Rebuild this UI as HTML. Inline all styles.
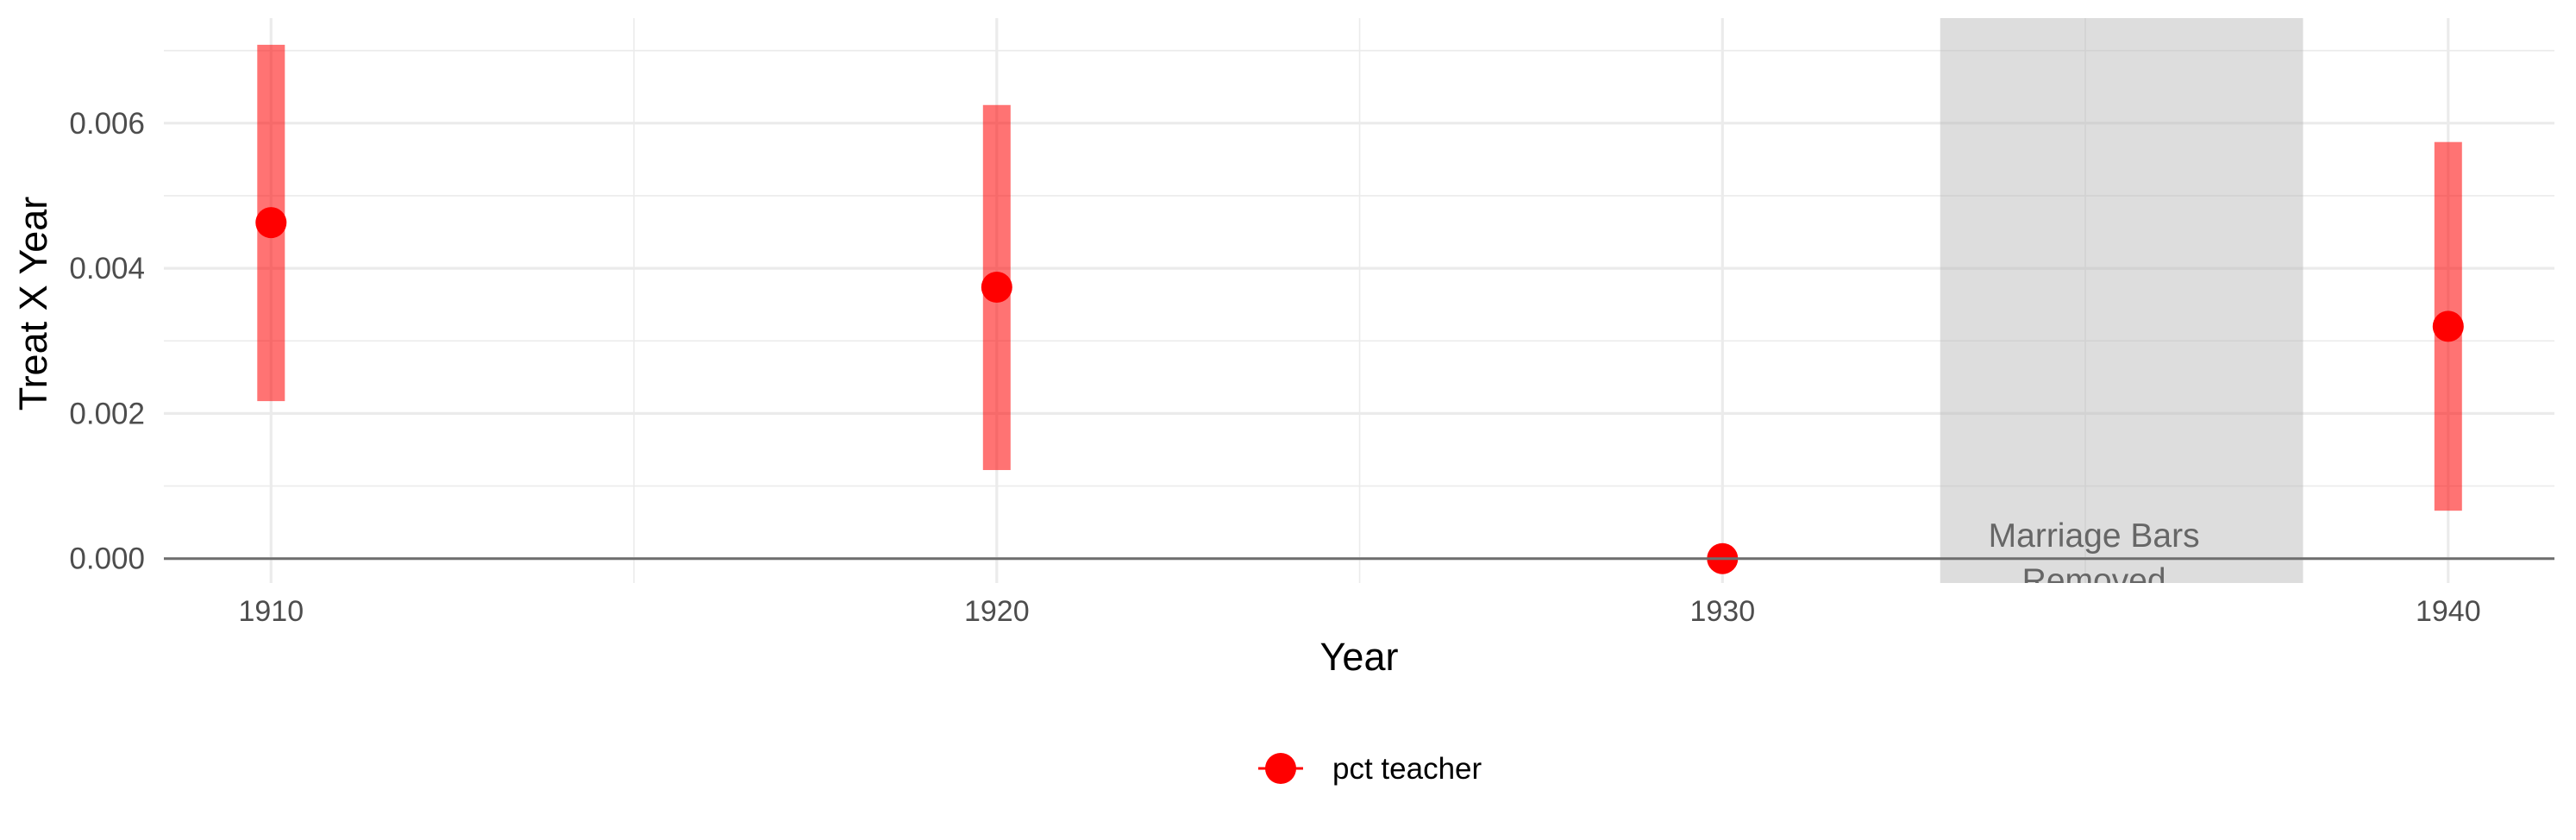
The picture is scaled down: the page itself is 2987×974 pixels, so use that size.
<!DOCTYPE html>
<html><head><meta charset="utf-8"><style>
html,body{margin:0;padding:0;background:#fff;}
svg{display:block;font-family:"Liberation Sans",Arial,sans-serif;}
</style></head><body>
<svg id="chart" width="2987" height="974" viewBox="0 0 2987 974" xmlns="http://www.w3.org/2000/svg">
<defs><clipPath id="pc"><rect x="190" y="21" width="2772" height="655"/></clipPath></defs>
<g id="grid"></g>
<g id="shade" clip-path="url(#pc)"></g>
<g id="marks"></g>
<g id="axes"></g>
<text x="1576" y="777" font-size="45" text-anchor="middle" fill="#000">Year</text>
<text transform="translate(54,352) rotate(-90)" font-size="45" text-anchor="middle" fill="#000">Treat X Year</text>
<g>
<line x1="1459" y1="891" x2="1511" y2="891" stroke="#ff0000" stroke-width="3"/>
<circle cx="1485" cy="891" r="18" fill="#ff0000"/>
<text x="1545" y="903" font-size="35" fill="#000">pct teacher</text>
</g>
</svg>
<script>
const years=[1910,1920,1930,1940];
const estimates=[0.00463,0.00374,0,0.00320];
const ciLow=[0.00217,0.00122,null,0.00066];
const ciHigh=[0.00708,0.00625,null,0.00574];
const yTicks=[0,0.002,0.004,0.006];
const yTickLabels=["0.000","0.002","0.004","0.006"];
const yMinor=[0.001,0.003,0.005,0.007];
const xTicks=[1910,1920,1930,1940];
const xMinor=[1915,1925,1935];
const shadeRange=[1933,1938];
const shadeLabel=["Marriage Bars","Removed"];

const NS="http://www.w3.org/2000/svg";
const L=190,R=2962,T=21,B=676;
const xs=v=>314.3+(v-1910)*84.15;
const ys=v=>647.7-v*84150;
function mk(tag,attrs,parent){const e=document.createElementNS(NS,tag);for(const k in attrs)e.setAttribute(k,attrs[k]);parent.appendChild(e);return e;}
const grid=document.getElementById('grid'),marks=document.getElementById('marks'),axes=document.getElementById('axes'),shade=document.getElementById('shade');
yMinor.forEach(v=>{const l=mk('line',{x1:L,x2:R,y1:ys(v),y2:ys(v),stroke:'#ebebeb','stroke-width':1.6},grid);

});
xMinor.forEach(v=>{const l=mk('line',{x1:xs(v),x2:xs(v),y1:T,y2:B,stroke:'#ebebeb','stroke-width':1.6},grid);

});
yTicks.forEach((v,i)=>{const l=mk('line',{x1:L,x2:R,y1:ys(v),y2:ys(v),stroke:'#ebebeb','stroke-width':3.2},grid);


const t=mk('text',{x:168,y:ys(v)+12,'font-size':35,'text-anchor':'end',fill:'#4d4d4d'},axes);t.textContent=yTickLabels[i];

});
xTicks.forEach(v=>{const l=mk('line',{x1:xs(v),x2:xs(v),y1:T,y2:B,stroke:'#ebebeb','stroke-width':3.2},grid);


const t=mk('text',{x:xs(v),y:720,'font-size':34,'text-anchor':'middle',fill:'#4d4d4d'},axes);t.textContent=v;

});
const sr=mk('rect',{x:xs(shadeRange[0]),y:T,width:xs(shadeRange[1])-xs(shadeRange[0]),height:B-T,fill:'#b3b3b3','fill-opacity':0.45},shade);


const cx=(xs(shadeRange[0])+xs(shadeRange[1]))/2-32;
shadeLabel.forEach((s,i)=>{const t=mk('text',{x:cx,y:634+i*52,'font-size':39,'text-anchor':'middle',fill:'#666666'},shade);t.textContent=s;

});
const z=mk('line',{x1:L,x2:R,y1:ys(0),y2:ys(0),stroke:'#6e6e6e','stroke-width':3},axes);


years.forEach((yr,i)=>{
 if(ciLow[i]!==null){const r=mk('rect',{x:xs(yr)-16,y:ys(ciHigh[i]),width:32,height:ys(ciLow[i])-ys(ciHigh[i]),fill:'#ff0000','fill-opacity':0.55},marks);
 
 }
 const c=mk('circle',{cx:xs(yr),cy:ys(estimates[i]),r:18,fill:'#ff0000'},marks);
 
 
});
</script>
</body></html>
